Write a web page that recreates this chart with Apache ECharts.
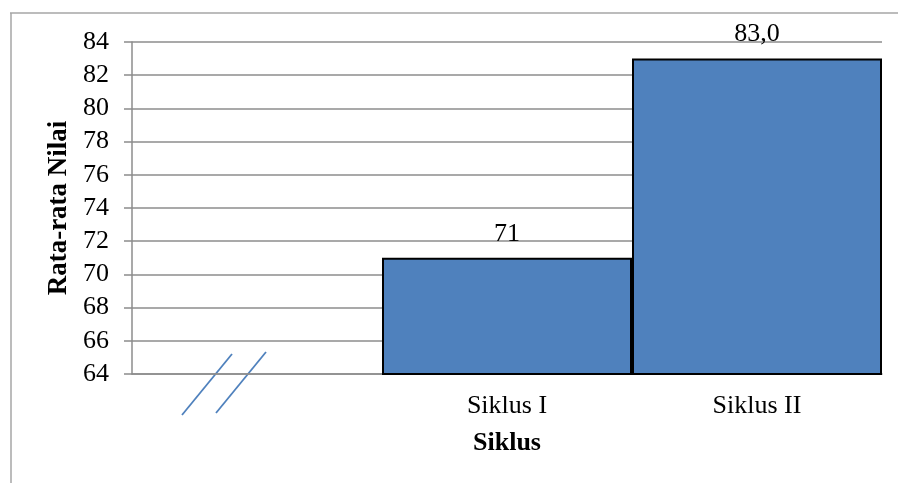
<!DOCTYPE html>
<html>
<head>
<meta charset="utf-8">
<script src="https://cdn.jsdelivr.net/npm/echarts@6/dist/echarts.min.js"></script>
<style>
html,body{margin:0;padding:0;background:#fff;}
#c{width:898px;height:483px;}
</style>
</head>
<body>
<div id="c"></div>
<script>
const categories = ['', 'Siklus I', 'Siklus II'];
const values = [null, 71, 83];
const valueLabels = ['', '71', '83,0'];
const yMin = 64, yMax = 84, yStep = 2;

const FONT = '"Liberation Serif", "Times New Roman", serif';
const chart = echarts.init(document.getElementById('c'), null, {renderer: 'canvas'});

const option = {
  animation: false,
  backgroundColor: '#fff',
  grid: {left: 132, right: 16, top: 42, bottom: 109, containLabel: false},
  xAxis: {
    type: 'category',
    data: categories,
    boundaryGap: true,
    name: 'Siklus',
    nameLocation: 'middle',
    nameGap: 56,
    nameTextStyle: {fontFamily: FONT, fontSize: 26, fontWeight: 'bold', color: '#000'},
    axisLine: {show: true, lineStyle: {color: '#8c8c8c', width: 1.5}},
    axisTick: {show: false},
    axisLabel: {fontFamily: FONT, fontSize: 26, color: '#000', margin: 19}
  },
  yAxis: {
    type: 'value',
    min: yMin, max: yMax, interval: yStep,
    name: 'Rata-rata Nilai',
    nameLocation: 'middle',
    nameGap: 57,
    nameRotate: 90,
    nameTextStyle: {fontFamily: FONT, fontSize: 27, fontWeight: 'bold', color: '#000'},
    axisLine: {show: true, lineStyle: {color: '#8c8c8c', width: 1.5}},
    axisTick: {show: true, length: 8, lineStyle: {color: '#8c8c8c', width: 1.5}},
    axisLabel: {fontFamily: FONT, fontSize: 26, color: '#000', margin: 23},
    splitLine: {show: true, lineStyle: {color: '#8c8c8c', width: 1.5}}
  },
  series: [{
    type: 'bar',
    data: values,
    barWidth: '100%',
    barCategoryGap: '0%',
    itemStyle: {color: '#4F81BD', borderColor: '#000', borderWidth: 2},
    label: {
      show: true,
      position: 'top',
      distance: 11,
      fontFamily: FONT,
      fontSize: 26,
      color: '#000',
      formatter: p => valueLabels[p.dataIndex]
    }
  }],
  graphic: [
    {type: 'line', shape: {x1: 10, y1: 13, x2: 898, y2: 13}, style: {stroke: '#a6a6a6', lineWidth: 1.5}},
    {type: 'line', shape: {x1: 11, y1: 13, x2: 11, y2: 483}, style: {stroke: '#a6a6a6', lineWidth: 1.5}},
    {type: 'line', shape: {x1: 182, y1: 415, x2: 232, y2: 354}, style: {stroke: '#4F81BD', lineWidth: 1.8}},
    {type: 'line', shape: {x1: 216, y1: 413, x2: 266, y2: 352}, style: {stroke: '#4F81BD', lineWidth: 1.8}}
  ]
};
chart.setOption(option);
</script>
</body>
</html>
